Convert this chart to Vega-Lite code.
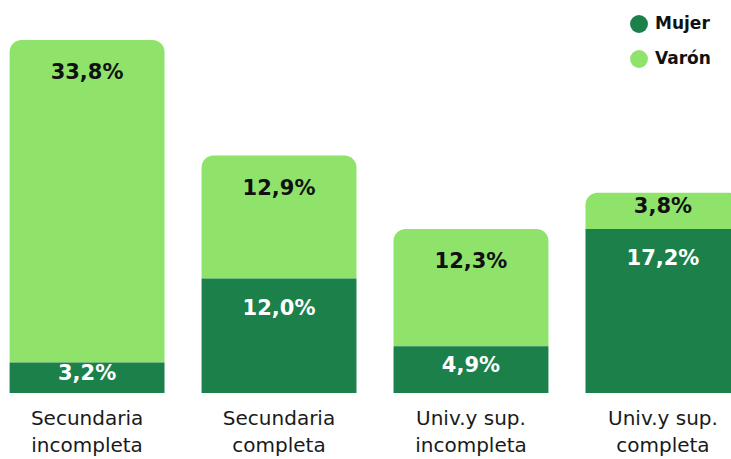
{
  "$schema": "https://vega.github.io/schema/vega-lite/v6.json",
  "width": 731,
  "height": 353,
  "autosize": "none",
  "padding": {"left": 0, "top": 40, "right": 0, "bottom": 66},
  "background": "#ffffff",
  "config": {"view": {"stroke": null}, "font": "DejaVu Sans"},
  "data": {
    "values": [
      {"cat": "Secundaria|incompleta", "sex": "Mujer", "value": 3.2},
      {"cat": "Secundaria|incompleta", "sex": "Varón", "value": 33.8},
      {"cat": "Secundaria|completa", "sex": "Mujer", "value": 12.0},
      {"cat": "Secundaria|completa", "sex": "Varón", "value": 12.9},
      {"cat": "Univ.y sup.|incompleta", "sex": "Mujer", "value": 4.9},
      {"cat": "Univ.y sup.|incompleta", "sex": "Varón", "value": 12.3},
      {"cat": "Univ.y sup.|completa", "sex": "Mujer", "value": 17.2},
      {"cat": "Univ.y sup.|completa", "sex": "Varón", "value": 3.8}
    ]
  },
  "transform": [
    {"calculate": "datum.sex === 'Mujer' ? 0 : 1", "as": "ord"},
    {"stack": "value", "groupby": ["cat"], "sort": [{"field": "ord", "order": "ascending"}], "as": ["y0", "y1"]},
    {"calculate": "replace(format(datum.value, '.1f'), '.', ',') + '%'", "as": "label"},
    {"calculate": "datum.sex === 'Mujer' ? max(datum.y1 - 3.2, (datum.y0 + datum.y1) / 2 + 0.4) : max(datum.y1 - 3.5, (datum.y0 + datum.y1) / 2 + 0.4)", "as": "ly"}
  ],
  "encoding": {
    "x": {
      "field": "cat",
      "type": "nominal",
      "sort": null,
      "scale": {"range": [0, 750], "paddingInner": 0.193, "paddingOuter": 0.05},
      "axis": {
        "title": null,
        "domain": false,
        "ticks": false,
        "labelAngle": 0,
        "labelExpr": "split(datum.label, '|')",
        "labelFontSize": 20,
        "labelColor": "#1a1a1a",
        "labelLineHeight": 27,
        "labelPadding": 15,
        "labelFont": "DejaVu Sans"
      }
    }
  },
  "layer": [
    {
      "transform": [{"filter": "datum.sex === 'Varón'"}],
      "mark": {"type": "bar", "cornerRadiusTopLeft": 12, "cornerRadiusTopRight": 12},
      "encoding": {
        "y": {"field": "y1", "type": "quantitative", "scale": {"domain": [0, 37], "nice": false}, "axis": null},
        "y2": {"field": "y0"},
        "color": {
          "field": "sex",
          "type": "nominal",
          "scale": {"domain": ["Mujer", "Varón"], "range": ["#1b8049", "#8fe36b"]},
          "legend": {
            "title": null,
            "orient": "none",
            "legendX": 630,
            "legendY": -25,
            "symbolType": "circle",
            "symbolSize": 320,
            "symbolStrokeWidth": 0,
            "labelFontSize": 17,
            "labelFontWeight": "bold",
            "labelColor": "#111111",
            "labelOffset": 7,
            "rowPadding": 17,
            "labelFont": "DejaVu Sans"
          }
        }
      }
    },
    {
      "transform": [{"filter": "datum.sex === 'Mujer'"}],
      "mark": {"type": "bar"},
      "encoding": {
        "y": {"field": "y1", "type": "quantitative", "scale": {"domain": [0, 37], "nice": false}, "axis": null},
        "y2": {"field": "y0"},
        "color": {"field": "sex", "type": "nominal"}
      }
    },
    {
      "mark": {"type": "text", "fontSize": 21, "fontWeight": "bold", "baseline": "middle", "align": "center"},
      "encoding": {
        "y": {"field": "ly", "type": "quantitative", "scale": {"domain": [0, 37], "nice": false}},
        "text": {"field": "label"},
        "color": {
          "condition": {"test": "datum.sex === 'Mujer'", "value": "#ffffff"},
          "value": "#111111"
        }
      }
    }
  ]
}
